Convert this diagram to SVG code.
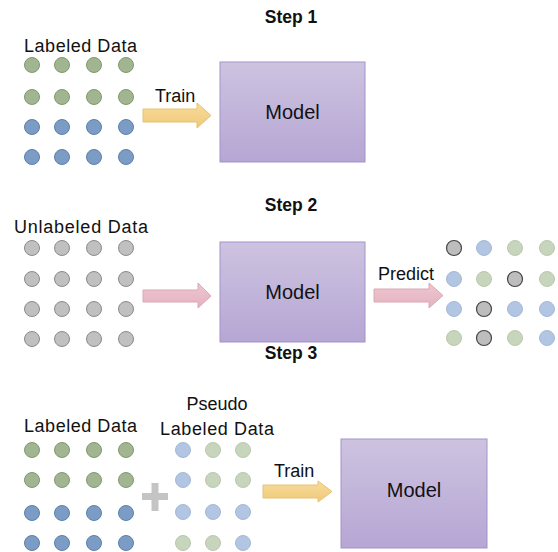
<svg xmlns="http://www.w3.org/2000/svg" width="558" height="552" viewBox="0 0 558 552">
<defs>
<linearGradient id="gModel" x1="0" y1="0" x2="0" y2="1">
<stop offset="0" stop-color="#cdc3e0"/>
<stop offset="1" stop-color="#b6a6d4"/>
</linearGradient>
<linearGradient id="gYellow" x1="0" y1="0" x2="0" y2="1">
<stop offset="0" stop-color="#f7dc9c"/>
<stop offset="1" stop-color="#efc979"/>
</linearGradient>
<linearGradient id="gPink" x1="0" y1="0" x2="0" y2="1">
<stop offset="0" stop-color="#eec6cf"/>
<stop offset="1" stop-color="#e4b3bf"/>
</linearGradient>
<circle id="dg" r="7.5" fill="#a1b690" stroke="#7f9870" stroke-width="1"/>
<circle id="db" r="7.5" fill="#7b9cc4" stroke="#5e7fa8" stroke-width="1"/>
<circle id="dy" r="7.5" fill="#c0c0c0" stroke="#8a8a8a" stroke-width="1"/>
<circle id="dk" r="7.5" fill="#bdbdbd" stroke="#444444" stroke-width="1.2"/>
<circle id="lb" r="7.5" fill="#b2c5e2" stroke="#a4b8d6" stroke-width="1"/>
<circle id="lg" r="7.5" fill="#c8d5bd" stroke="#b9c8ad" stroke-width="1"/>
</defs>
<style>
text{font-family:"Liberation Sans",Arial,sans-serif;fill:#111111}
.step{font-size:17.5px;font-weight:bold;text-anchor:middle}
.lbl{font-size:18px}
.mdl{font-size:20px;text-anchor:middle}
.box{fill:url(#gModel);stroke:#a393c9;stroke-width:1}
.ay{fill:url(#gYellow);stroke:#e6c274;stroke-width:1}
.ap{fill:url(#gPink);stroke:#dba8b4;stroke-width:1}
</style>

<text class="step" x="291" y="23">Step 1</text>
<text class="step" x="291" y="211">Step 2</text>
<text class="step" x="291" y="359">Step 3</text>

<g id="labeled1">
<text class="lbl" x="24" y="52" textLength="113">Labeled Data</text>
<use href="#dg" x="32" y="65"/><use href="#dg" x="62" y="65"/><use href="#dg" x="94" y="65"/><use href="#dg" x="126" y="65"/>
<use href="#dg" x="32" y="97"/><use href="#dg" x="62" y="97"/><use href="#dg" x="94" y="97"/><use href="#dg" x="126" y="97"/>
<use href="#db" x="32" y="127"/><use href="#db" x="62" y="127"/><use href="#db" x="94" y="127"/><use href="#db" x="126" y="127"/>
<use href="#db" x="32" y="157"/><use href="#db" x="62" y="157"/><use href="#db" x="94" y="157"/><use href="#db" x="126" y="157"/>
</g>

<g id="model1">
<rect class="box" x="220" y="62" width="145" height="100"/>
<text class="mdl" x="292.5" y="119">Model</text>
</g>

<g id="unlabeled">
<text class="lbl" x="14" y="233" textLength="134">Unlabeled Data</text>
<use href="#dy" x="32" y="248"/><use href="#dy" x="62" y="248"/><use href="#dy" x="94" y="248"/><use href="#dy" x="126" y="248"/>
<use href="#dy" x="32" y="279"/><use href="#dy" x="62" y="279"/><use href="#dy" x="94" y="279"/><use href="#dy" x="126" y="279"/>
<use href="#dy" x="32" y="309"/><use href="#dy" x="62" y="309"/><use href="#dy" x="94" y="309"/><use href="#dy" x="126" y="309"/>
<use href="#dy" x="32" y="339"/><use href="#dy" x="62" y="339"/><use href="#dy" x="94" y="339"/><use href="#dy" x="126" y="339"/>
</g>

<g id="model2">
<rect class="box" x="220" y="242" width="145" height="100"/>
<text class="mdl" x="292.5" y="299">Model</text>
</g>

<g id="predicted">
<use href="#dk" x="454" y="248"/><use href="#lb" x="484" y="248"/><use href="#lg" x="515" y="248"/><use href="#lg" x="547" y="248"/>
<use href="#lb" x="454" y="279"/><use href="#lg" x="484" y="279"/><use href="#dk" x="515" y="279"/><use href="#lg" x="547" y="279"/>
<use href="#lb" x="454" y="309"/><use href="#dk" x="484" y="309"/><use href="#lb" x="515" y="309"/><use href="#lb" x="547" y="309"/>
<use href="#lg" x="454" y="338"/><use href="#dk" x="484" y="338"/><use href="#lg" x="515" y="338"/><use href="#lb" x="547" y="338"/>
</g>

<g id="labeled3">
<text class="lbl" x="24" y="432" textLength="113">Labeled Data</text>
<use href="#dg" x="32" y="450"/><use href="#dg" x="62" y="450"/><use href="#dg" x="94" y="450"/><use href="#dg" x="126" y="450"/>
<use href="#dg" x="32" y="480"/><use href="#dg" x="62" y="480"/><use href="#dg" x="94" y="480"/><use href="#dg" x="126" y="480"/>
<use href="#db" x="32" y="513"/><use href="#db" x="62" y="513"/><use href="#db" x="94" y="513"/><use href="#db" x="126" y="513"/>
<use href="#db" x="32" y="543"/><use href="#db" x="62" y="543"/><use href="#db" x="94" y="543"/><use href="#db" x="126" y="543"/>
</g>

<g id="plus">
<rect x="142" y="493" width="26" height="7" fill="#c4c4c4"/>
<rect x="151.5" y="483" width="7" height="28" fill="#c4c4c4"/>
</g>

<g id="pseudo">
<text class="lbl" x="217" y="410" text-anchor="middle">Pseudo</text>
<text class="lbl" x="160" y="435" textLength="114">Labeled Data</text>
<use href="#lb" x="183" y="450"/><use href="#lg" x="213" y="450"/><use href="#lg" x="243" y="450"/>
<use href="#lb" x="183" y="480"/><use href="#lg" x="213" y="480"/><use href="#lg" x="243" y="480"/>
<use href="#lb" x="183" y="512"/><use href="#lb" x="213" y="512"/><use href="#lb" x="243" y="512"/>
<use href="#lg" x="183" y="543"/><use href="#lg" x="213" y="543"/><use href="#lb" x="243" y="543"/>
</g>

<g id="model3">
<rect class="box" x="341" y="439" width="146" height="109"/>
<text class="mdl" x="414" y="497">Model</text>
</g>

<g id="connectors">
<path class="ay" d="M143,109 H197 V103 L211,115.5 L197,128 V122 H143 Z"/>
<text class="lbl" x="155" y="102" font-size="16">Train</text>
<path class="ap" d="M143,290 H198 V283 L211,296 L198,308 V302 H143 Z"/>
<path class="ap" d="M374,289 H429 V283 L443,295.5 L429,308 V302 H374 Z"/>
<text class="lbl" x="378" y="280" font-size="16">Predict</text>
<path class="ay" d="M263,485 H318 V481 L332,491.5 L318,502 V498 H263 Z"/>
<text class="lbl" x="274" y="477" font-size="16">Train</text>
</g>
</svg>
